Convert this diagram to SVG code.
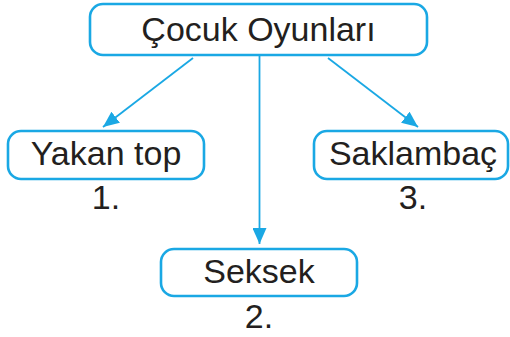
<svg xmlns="http://www.w3.org/2000/svg" width="510" height="337" viewBox="0 0 510 337">
<style>
.box{fill:#fff;stroke:#1aa8e4;stroke-width:2.6}
.t{font-family:"Liberation Sans",Arial,sans-serif;font-size:34px;fill:#231f20;text-anchor:middle}
.c{stroke:#1aa8e4;stroke-width:1.8;fill:none}
</style>
<defs>
<marker id="ah" markerUnits="userSpaceOnUse" markerWidth="18" markerHeight="14" refX="16" refY="7" orient="auto">
<path d="M0,0 L16,7 L0,14 Z" fill="#1aa8e4"/>
</marker>
</defs>
<rect width="510" height="337" fill="#fff"/>
<g id="connectors">
<line class="c" x1="193" y1="58" x2="103" y2="127" marker-end="url(#ah)"/>
<line class="c" x1="259.5" y1="56" x2="259.5" y2="244" marker-end="url(#ah)"/>
<line class="c" x1="328" y1="58" x2="418" y2="127" marker-end="url(#ah)"/>
</g>
<g id="root">
<rect class="box" x="90" y="4" width="337" height="51" rx="13"/>
<text class="t" x="258.5" y="41">Çocuk Oyunları</text>
</g>
<g id="n1">
<rect class="box" x="8" y="131" width="196" height="48" rx="13"/>
<text class="t" x="106" y="165">Yakan top</text>
<text class="t" x="106" y="209">1.</text>
</g>
<g id="n2">
<rect class="box" x="161" y="249" width="196" height="47" rx="13"/>
<text class="t" x="259" y="283">Seksek</text>
<text class="t" x="259" y="328">2.</text>
</g>
<g id="n3">
<rect class="box" x="314" y="131" width="194" height="48" rx="13"/>
<text class="t" x="413" y="165">Saklambaç</text>
<text class="t" x="413" y="209">3.</text>
</g>
</svg>
